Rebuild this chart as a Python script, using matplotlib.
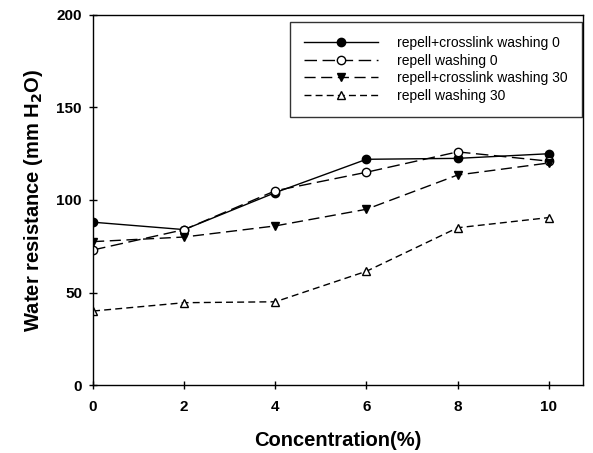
import numpy as np
from matplotlib import pyplot as plt

conc = [0, 2, 4, 6, 8, 10]
cross_w0 = [88, 84, 104, 122, 122.5, 125]
repel_w0 = [73, 84, 105, 115, 126, 121]
cross_w30 = [77.5, 80, 86, 95, 113.5, 120]
repel_w30 = [40, 44.5, 45, 61.5, 85, 90.5]
labels = ['repell+crosslink washing 0', 'repell washing 0',
          'repell+crosslink washing 30', 'repell washing 30']

plt.rcParams['font.family'] = ['Liberation Sans', 'DejaVu Sans']
fig = plt.figure(figsize=(5.93, 4.53), dpi=100)
ax = fig.add_axes([0.157, 0.150, 0.826, 0.817])

ax.plot(conc, cross_w0, color='k', lw=1, linestyle='-', marker='o', ms=6,
        mfc='k', mec='k', label=labels[0])
ax.plot(conc, repel_w0, color='k', lw=1, linestyle=(0, (9, 4)), marker='o', ms=6,
        mfc='white', mec='k', label=labels[1])
ax.plot(conc, cross_w30, color='k', lw=1, linestyle=(0, (8, 4)), marker='v', ms=6,
        mfc='k', mec='k', label=labels[2])
ax.plot(conc, repel_w30, color='k', lw=1, linestyle=(0, (5, 3)), marker='^', ms=6,
        mfc='white', mec='k', label=labels[3])

ax.set_xlim(0, 10.75)
ax.set_ylim(0, 200)
ax.set_xticks([0, 2, 4, 6, 8, 10])
ax.set_yticks([0, 50, 100, 150, 200])
ax.tick_params(direction='inout', length=6, width=1, labelsize=11)
ax.tick_params(axis='x', pad=8)
ax.tick_params(axis='y', pad=5)
for lab in ax.get_xticklabels() + ax.get_yticklabels():
    lab.set_fontweight('bold')
for s in ax.spines.values():
    s.set_linewidth(1)

ax.set_xlabel('Concentration(%)', fontsize=14.5, fontweight='bold', labelpad=12)
ax.set_ylabel('Water resistance (mm H$_\\mathbf{2}$O)', fontsize=14.5, fontweight='bold', labelpad=8)

leg = ax.legend(loc='upper right', fontsize=10, frameon=True, fancybox=False,
                edgecolor='k', handlelength=5.3, borderpad=1.0, labelspacing=0.25,
                handletextpad=1.4, borderaxespad=0, bbox_to_anchor=(0.998, 0.98))
leg.get_frame().set_linewidth(1)

fig.savefig('out.png', dpi=100)
